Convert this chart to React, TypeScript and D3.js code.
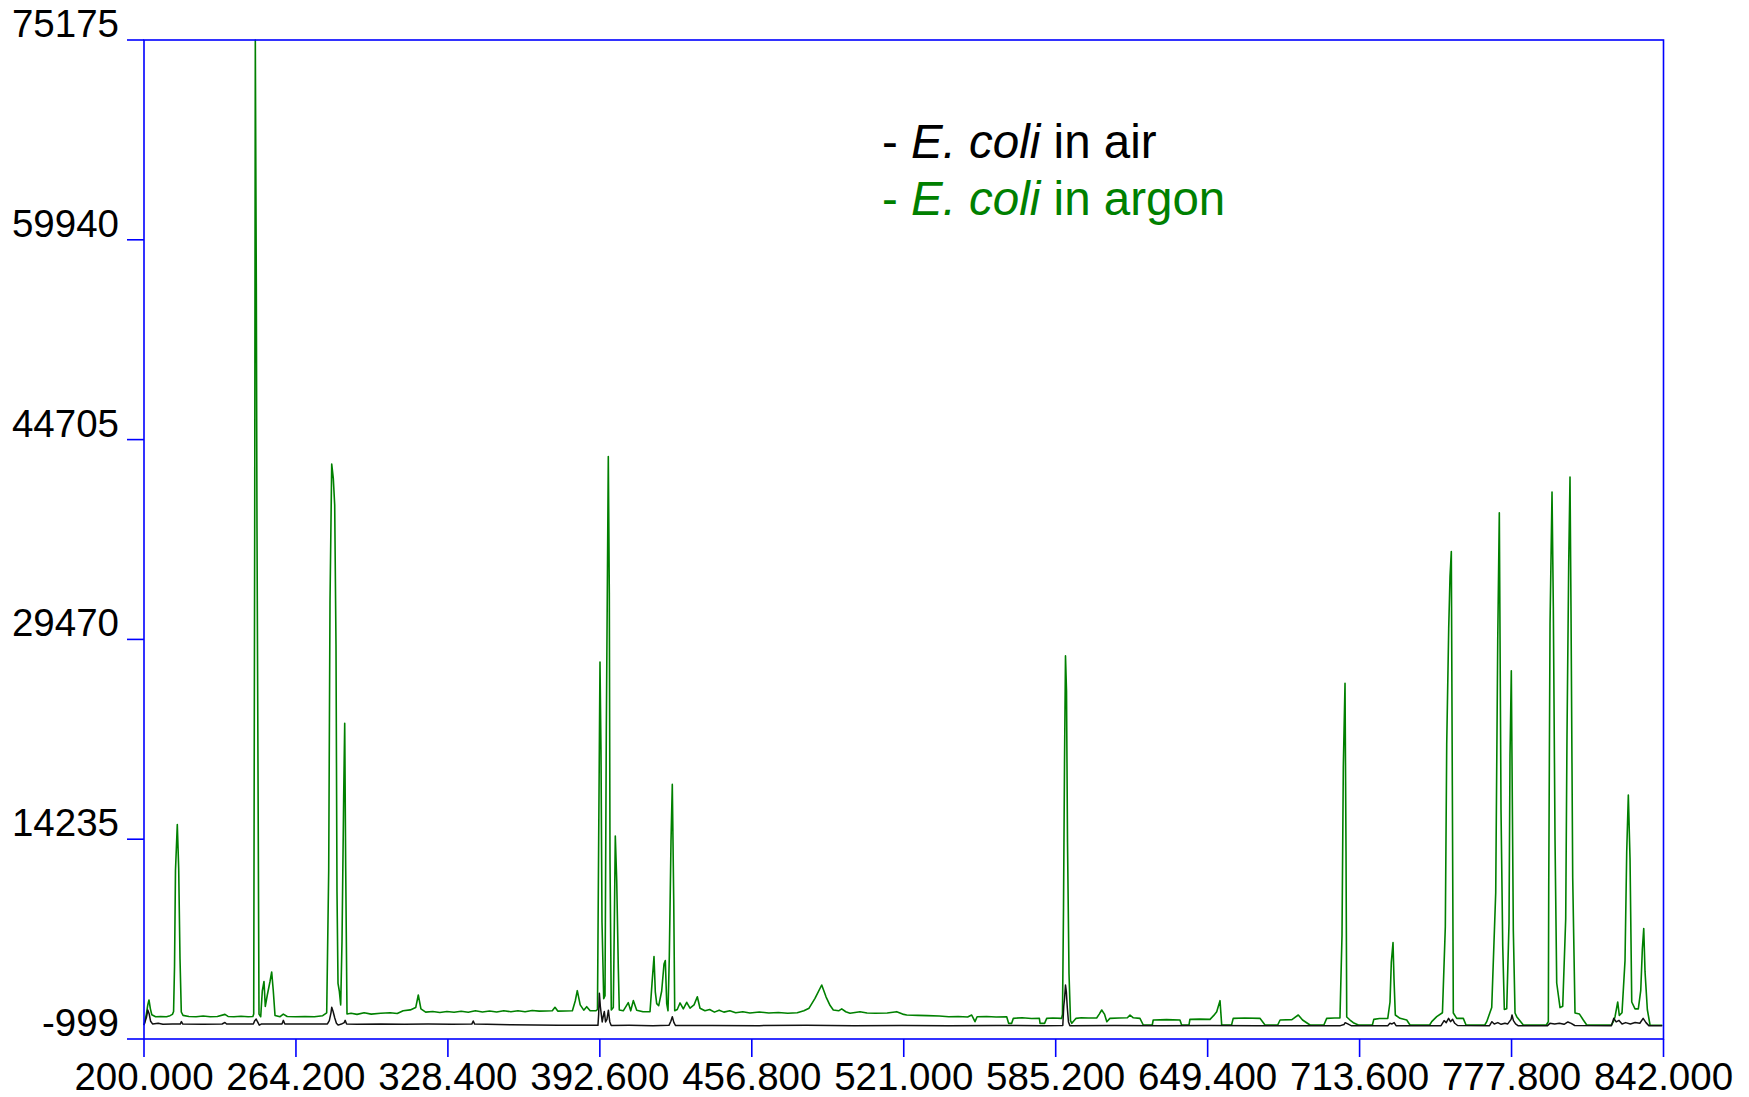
import React from 'react';
import * as d3 from 'd3';

// Axis tick values (nm on x, counts on y)
const xTicks = [200, 264.2, 328.4, 392.6, 456.8, 521, 585.2, 649.4, 713.6, 777.8, 842];
const yTicks = [-999, 14235, 29470, 44705, 59940, 75175];

// Emission spectrum of E. coli in argon: [wavelength nm, intensity]
const argonSpectrum: [number, number][] = [
  [200.0, 60], [201.0, 900], [201.6, 1600], [202.1, 1975], [202.7, 1300], [203.3, 850],
  [204.9, 700], [207.0, 720], [209.5, 700], [211.0, 780], [212.0, 880], [212.5, 1100],
  [212.9, 4552], [213.3, 11849], [214.07, 15349], [214.66, 11994], [215.21, 5131], [215.76, 1060],
  [216.5, 800], [219.0, 720], [222.0, 700], [225.0, 750], [228.0, 700], [231.0, 720],
  [234.2, 880], [235.5, 720], [238.0, 700], [241.0, 740], [244.0, 700], [246.0, 720],
  [246.35, 900], [246.77, 37965], [247.03, 75175], [247.45, 56646], [247.74, 37965], [248.17, 19436],
  [248.59, 900], [249.31, 700], [249.98, 2661], [250.7, 3385], [251.25, 1486], [252.1, 2356],
  [253.24, 3385], [253.95, 4110], [254.63, 2661], [255.35, 800], [257.5, 700], [258.86, 900],
  [260.5, 720], [264.0, 700], [268.0, 720], [272.0, 700], [275.5, 780], [277.19, 1000],
  [278.04, 11849], [278.59, 32421], [279.31, 42845], [279.98, 41755], [280.57, 39719], [281.12, 29067],
  [281.54, 10240], [281.97, 3240], [282.52, 2661], [283.11, 1600], [283.66, 6451], [284.37, 17530],
  [284.8, 23080], [285.22, 11994], [285.77, 907], [287.5, 960], [290.0, 880], [293.0, 1000],
  [296.0, 900], [300.0, 960], [304.0, 1000], [307.0, 940], [309.5, 1150], [312.5, 1220],
  [314.8, 1400], [315.89, 2356], [317.0, 1300], [319.0, 1050], [322.0, 1100], [325.0, 1020],
  [328.0, 1100], [331.0, 1040], [334.0, 1120], [337.0, 1040], [340.0, 1150], [343.0, 1060],
  [346.0, 1130], [349.0, 1060], [352.0, 1160], [355.0, 1080], [358.0, 1150], [361.0, 1080],
  [364.0, 1180], [367.0, 1130], [370.0, 1140], [372.5, 1150], [373.65, 1415], [374.8, 1130],
  [378.0, 1140], [381.0, 1150], [382.2, 1900], [383.07, 2686], [384.3, 1600], [385.8, 1200],
  [387.04, 1466], [388.5, 1150], [391.0, 1160], [391.6, 1250], [392.11, 14327], [392.66, 27748],
  [393.08, 21036], [393.51, 7907], [394.23, 2074], [394.78, 2300], [395.33, 22494], [396.17, 43417],
  [396.6, 33009], [396.89, 12574], [397.44, 1212], [398.29, 1400], [398.71, 7617], [399.13, 14480],
  [399.72, 11125], [400.4, 4415], [400.82, 1212], [402.5, 1150], [404.62, 1776], [405.64, 1150],
  [406.74, 1929], [408.17, 1200], [410.83, 1080], [413.79, 1080], [414.64, 3240], [415.48, 5284],
  [416.03, 2600], [416.62, 1700], [417.47, 1550], [418.73, 2661], [419.71, 4720], [420.26, 4987],
  [420.85, 1700], [421.4, 1150], [421.95, 5284], [422.66, 14037], [423.21, 18414], [423.81, 9661],
  [424.23, 1150], [425.3, 1250], [426.47, 1750], [427.86, 1300], [429.3, 1800], [430.69, 1350],
  [432.4, 1600], [433.78, 2219], [434.92, 1350], [437.0, 1150], [439.0, 1250], [441.0, 1050],
  [443.0, 1200], [445.0, 1050], [447.5, 1150], [450.0, 1000], [453.0, 1080], [456.0, 980],
  [460.0, 1060], [464.0, 980], [468.0, 1020], [472.0, 960], [476.0, 1000], [478.8, 1150],
  [481.0, 1350], [483.5, 2100], [486.34, 3118], [488.2, 2200], [489.9, 1550], [491.24, 1212],
  [493.5, 1150], [494.79, 1300], [496.5, 1080], [498.29, 960], [502.52, 1085], [505.5, 980],
  [509.0, 960], [514.0, 980], [518.02, 1085], [520.5, 900], [522.25, 831], [527.0, 800],
  [531.0, 780], [536.0, 760], [540.0, 700], [544.0, 720], [548.0, 680], [549.7, 831],
  [551.1, 322], [552.0, 700], [556.0, 720], [560.0, 680], [564.5, 700], [565.3, 195],
  [566.6, 195], [567.3, 576], [571.0, 620], [575.0, 560], [578.3, 576], [578.6, 195],
  [580.5, 195], [581.4, 576], [584.0, 600], [587.7, 576], [588.07, 900], [588.5, 9000],
  [588.92, 20000], [589.34, 28212], [589.77, 25500], [590.19, 14000], [590.82, 4000], [591.46, 400],
  [592.0, 195], [593.8, 576], [596.0, 620], [599.0, 600], [602.5, 600], [603.6, 900],
  [604.64, 1212], [605.8, 900], [606.8, 322], [608.1, 576], [612.0, 600], [615.5, 620],
  [616.6, 831], [618.0, 620], [620.8, 576], [622.2, 68], [626.0, 68], [626.4, 449],
  [632.0, 480], [637.7, 449], [638.4, 68], [641.5, 68], [641.9, 500], [646.0, 520],
  [650.4, 500], [652.0, 800], [653.23, 1085], [654.62, 1924], [655.34, 68], [659.5, 68],
  [660.2, 576], [665.0, 600], [671.5, 576], [673.64, 68], [679.0, 68], [680.0, 449],
  [685.0, 480], [687.7, 831], [689.5, 449], [692.65, 68], [698.5, 68], [699.7, 576],
  [703.0, 600], [705.3, 600], [706.17, 6931], [706.72, 19764], [707.44, 26131], [707.86, 13305],
  [708.16, 678], [709.55, 449], [710.94, 246], [713.06, 68], [719.0, 68], [719.6, 500],
  [722.0, 560], [725.5, 576], [726.45, 1822], [727.0, 4842], [727.72, 6359], [728.14, 3546],
  [728.69, 831], [730.68, 576], [733.51, 449], [734.9, 68], [743.2, 68], [744.07, 322],
  [746.18, 704], [748.6, 1000], [749.82, 7564], [750.41, 21480], [751.25, 30325], [751.8, 34252],
  [752.35, 36174], [752.78, 18323], [753.2, 984], [754.63, 576], [757.42, 576], [758.56, 68],
  [766.5, 68], [767.31, 322], [769.42, 1395], [771.11, 10149], [771.96, 29372], [772.63, 39131],
  [773.35, 16462], [774.07, 6130], [774.75, 1250], [775.76, 1300], [776.73, 7846], [777.15, 20626],
  [777.7, 27077], [778.55, 7274], [779.27, 984], [779.98, 704], [782.77, 68], [792.5, 68],
  [793.34, 322], [793.51, 10591], [794.06, 30668], [794.9, 40709], [795.45, 31956], [796.17, 14175],
  [796.88, 3271], [798.28, 1395], [799.42, 1500], [800.68, 8151], [801.23, 22204], [801.95, 35258],
  [802.5, 41853], [802.92, 31674], [803.64, 11293], [804.61, 984], [806.5, 900], [808.12, 449],
  [809.56, 68], [820.0, 68], [820.8, 322], [821.52, 700], [822.66, 1822], [823.33, 800],
  [824.47, 1000], [825.74, 4979], [826.46, 13305], [827.14, 17606], [827.86, 12726], [828.58, 1822],
  [829.97, 1300], [831.36, 1300], [832.38, 2684], [833.06, 5841], [833.65, 7419], [834.2, 4117],
  [835.17, 1250], [836.31, 68], [841.5, 50],
];

// Emission spectrum of E. coli in air: [wavelength nm, intensity]
const airSpectrum: [number, number][] = [
  [200.0, 60], [201.1, 700], [201.6, 1212], [202.2, 900], [202.8, 350], [203.6, 150],
  [206.0, 200], [208.0, 120], [212.0, 140], [215.3, 140], [215.8, 330], [216.4, 140],
  [225.0, 130], [233.0, 145], [234.2, 260], [234.9, 140], [246.2, 140], [246.8, 400],
  [247.4, 520], [248.0, 300], [248.7, 60], [249.5, 140], [258.3, 140], [258.86, 420],
  [259.5, 140], [277.5, 150], [278.3, 400], [279.0, 1000], [279.31, 1418], [279.9, 1100],
  [280.6, 600], [281.3, 200], [282.0, 60], [283.4, 140], [284.6, 250], [285.0, 420],
  [285.6, 150], [290.0, 130], [300.0, 150], [310.0, 120], [320.0, 140], [330.0, 130],
  [338.5, 140], [339.1, 373], [339.7, 140], [345.0, 120], [355.0, 90], [365.0, 70],
  [375.0, 50], [385.0, 40], [391.8, 40], [392.1, 900], [392.4, 2486], [392.8, 1500],
  [393.2, 900], [393.6, 300], [394.0, 700], [394.5, 1100], [395.0, 300], [395.6, 500],
  [396.2, 1200], [396.8, 300], [397.4, 30], [405.0, 40], [415.0, 20], [421.8, 40],
  [422.6, 350], [423.21, 701], [423.9, 250], [424.6, 30], [440.0, 30], [460.0, 20],
  [480.0, 40], [500.0, 20], [520.0, 30], [540.0, 20], [560.0, 30], [580.0, 20],
  [588.2, 30], [588.6, 1500], [588.95, 2100], [589.34, 3118], [589.7, 2600], [590.1, 1400],
  [590.6, 300], [591.2, 20], [610.0, 30], [630.0, 20], [650.0, 30], [670.0, 20],
  [690.0, 20], [705.5, 20], [707.0, 100], [707.5, 246], [708.6, 150], [710.0, 20],
  [725.5, 20], [726.4, 200], [727.3, 150], [728.2, 250], [729.0, 20], [748.0, 20],
  [749.3, 400], [750.2, 250], [751.2, 576], [752.0, 322], [752.9, 500], [753.8, 200],
  [755.0, 30], [768.5, 20], [769.5, 322], [770.5, 150], [772.0, 250], [773.4, 120],
  [775.0, 200], [776.2, 150], [777.6, 500], [778.0, 831], [778.6, 400], [779.5, 150],
  [780.5, 20], [793.0, 20], [794.0, 195], [796.0, 150], [798.0, 200], [800.0, 120],
  [801.6, 300], [803.0, 195], [804.5, 30], [820.0, 20], [821.0, 576], [822.0, 300],
  [823.2, 420], [824.5, 150], [826.0, 250], [828.0, 150], [830.0, 260], [832.0, 200],
  [833.4, 576], [834.6, 250], [835.8, 20], [841.5, 20],
];

const legendEntries = [
  { dash: '- ', species: 'E. coli', rest: ' in air', color: '#000000' },
  { dash: '- ', species: 'E. coli', rest: ' in argon', color: '#008000' },
];

const WIDTH = 1749;
const HEIGHT = 1097;
const PLOT = { left: 144, right: 1663.5, top: 40, bottom: 1039 };
const AXIS_BLUE = '#0000ff';
const FONT = '"Liberation Sans", Arial, Helvetica, sans-serif';

export default function App() {
  const x = d3.scaleLinear().domain([200, 842]).range([PLOT.left, PLOT.right]);
  const y = d3.scaleLinear().domain([-999, 75175]).range([PLOT.bottom, PLOT.top]);

  const line = d3
    .line<[number, number]>()
    .x((d) => x(d[0]))
    .y((d) => y(d[1]));

  const fmtX = d3.format('.3f');

  return (
    <div style={{ position: 'absolute', left: 0, top: 0 }}>
      <svg width={WIDTH} height={HEIGHT} style={{ display: 'block', background: '#ffffff' }}>
        <rect x={0} y={0} width={WIDTH} height={HEIGHT} fill="#ffffff" />

        {/* spectra */}
        <path d={line(argonSpectrum) ?? ''} fill="none" stroke="#008000" strokeWidth={1.6} strokeLinejoin="round" />
        <path d={line(airSpectrum) ?? ''} fill="none" stroke="#111111" strokeWidth={1.5} strokeLinejoin="round" />

        {/* frame */}
        <rect
          x={PLOT.left}
          y={PLOT.top}
          width={PLOT.right - PLOT.left}
          height={PLOT.bottom - PLOT.top}
          fill="none"
          stroke={AXIS_BLUE}
          strokeWidth={1.6}
        />

        {/* y axis ticks and labels */}
        {yTicks.map((t) => (
          <g key={`y${t}`}>
            <line x1={127} x2={PLOT.left} y1={y(t)} y2={y(t)} stroke={AXIS_BLUE} strokeWidth={1.6} />
            <text
              x={119}
              y={y(t) - 3}
              textAnchor="end"
              fontFamily={FONT}
              fontSize={38.5}
              fill="#000000"
            >
              {String(t)}
            </text>
          </g>
        ))}

        {/* x axis ticks and labels */}
        {xTicks.map((t) => (
          <g key={`x${t}`}>
            <line x1={x(t)} x2={x(t)} y1={PLOT.bottom} y2={PLOT.bottom + 18} stroke={AXIS_BLUE} strokeWidth={1.6} />
            <text
              x={x(t)}
              y={1090}
              textAnchor="middle"
              fontFamily={FONT}
              fontSize={38.5}
              fill="#000000"
            >
              {fmtX(t)}
            </text>
          </g>
        ))}

        {/* legend */}
        {legendEntries.map((e, i) => (
          <text key={e.rest} x={882} y={158 + i * 57} fontFamily={FONT} fontSize={47.5} fill={e.color}>
            <tspan>{e.dash}</tspan>
            <tspan fontStyle="italic">{e.species}</tspan>
            <tspan>{e.rest}</tspan>
          </text>
        ))}
      </svg>
    </div>
  );
}
